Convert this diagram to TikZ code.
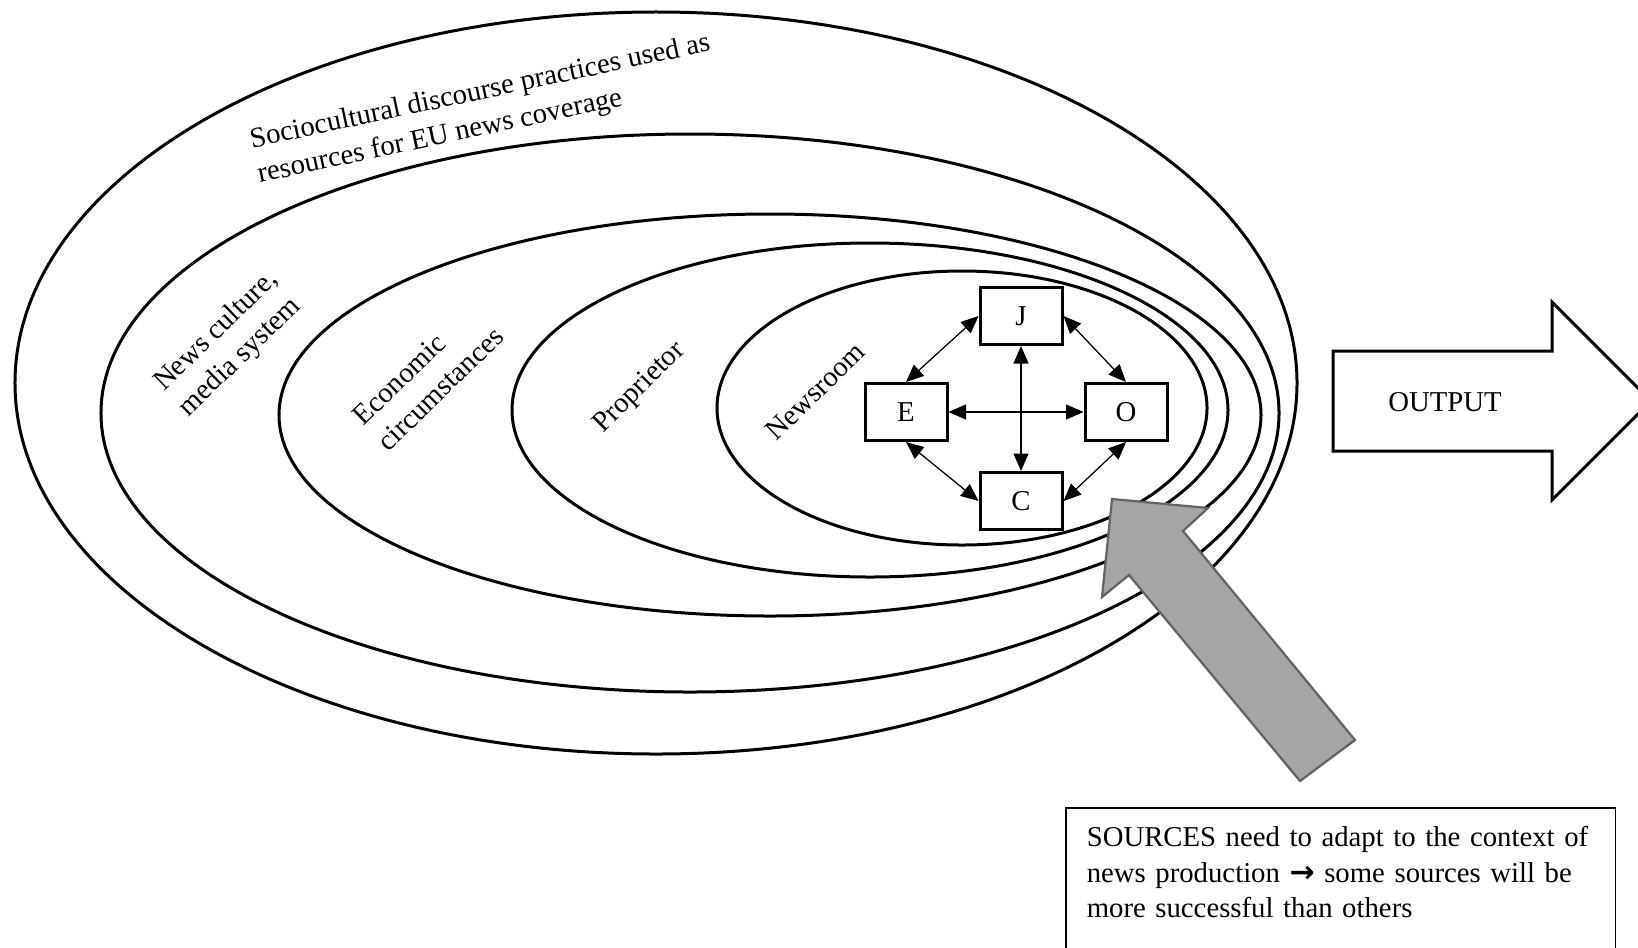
\documentclass[tikz,border=0pt]{standalone}
\usepackage{fontspec}
\setmainfont{Liberation Serif}
\newfontfamily\arrowfont{DejaVu Sans}
\usetikzlibrary{arrows.meta}
\definecolor{arrowfill}{HTML}{A6A6A6}
\definecolor{arrowedge}{HTML}{646464}

\begin{document}
\begin{tikzpicture}[x=0.4pt, y=-0.4pt, node distance=88pt,
    ring/.style={line width=1.2pt},
    actor/.style={rectangle, draw, line width=1.2pt, minimum width=32.8pt, minimum height=22.8pt},
    ringtext/.style={align=left}]
  \tikzstyle{every node}=[font=\fontsize{11.5}{14.2}\selectfont]

  \path[use as bounding box, clip] (0,0) rectangle (1638,947);

  % the layers, outer to inner
  \draw[ring] (656,383) ellipse [x radius=256.4pt, y radius=148.4pt];
  \draw[ring] (690,413) ellipse [x radius=235.6pt, y radius=111.6pt];
  \draw[ring] (770,415) ellipse [x radius=196.4pt, y radius=80.4pt];
  \draw[ring] (870,410) ellipse [x radius=143.2pt, y radius=66.8pt];
  \draw[ring] (962,408) ellipse [x radius=98pt, y radius=54.8pt];

  \node[ringtext, rotate=12] (socio) at (484,110) {Sociocultural discourse practices used as\\resources for EU news coverage};
  \node[ringtext, rotate=44] (culture) at (229,344) {News culture,\\media system};
  \node[ringtext, rotate=44] (economy) at (428,376) {Economic\\circumstances};
  \node[ringtext, rotate=45] (owner) at (640,388) {Proprietor};
  \node[ringtext, rotate=44] (newsroom) at (815,391) {Newsroom};

  % newsroom actors
  \node[actor] (E) at (906,412) {E};
  \node[actor] (O) [right of=E] {O};
  \node[actor] (J) at (1021,316) {J};
  \node[actor] (C) [below of=J, node distance=74pt] {C};

  \path[<->, >={Triangle[length=7pt, width=6pt]}, line width=0.5pt]
    (J) edge (C)
    (E) edge (O)
    (J.west) edge (E.north)
    (J.east) edge (O.north)
    (E.south) edge (C.west)
    (O.south) edge (C.east);

  % output
  \draw[line width=1.2pt] (1333,351) -- (1552,351) -- (1552,302) -- (1651,401)
    -- (1552,500) -- (1552,451) -- (1333,451) -- cycle;
  \node (output) at (1445,402) {OUTPUT};

  % sources
  \draw[draw=arrowedge, fill=arrowfill, line width=0.9pt] (1112,499) -- (1208,508) -- (1183,531)
    -- (1355,740) -- (1300,781) -- (1129,575) -- (1102,597) -- cycle;
  \node[draw, line width=0.6pt, anchor=north west, align=left, text width=203pt,
    text depth=45pt, inner xsep=8.4pt, inner ysep=7.5pt] (sources) at (1065,807)
    {SOURCES need to adapt to the context of\\news production {\arrowfont\bfseries\fontsize{12}{14.2}\selectfont →} some sources will be\\more successful than others};
\end{tikzpicture}
\end{document}
